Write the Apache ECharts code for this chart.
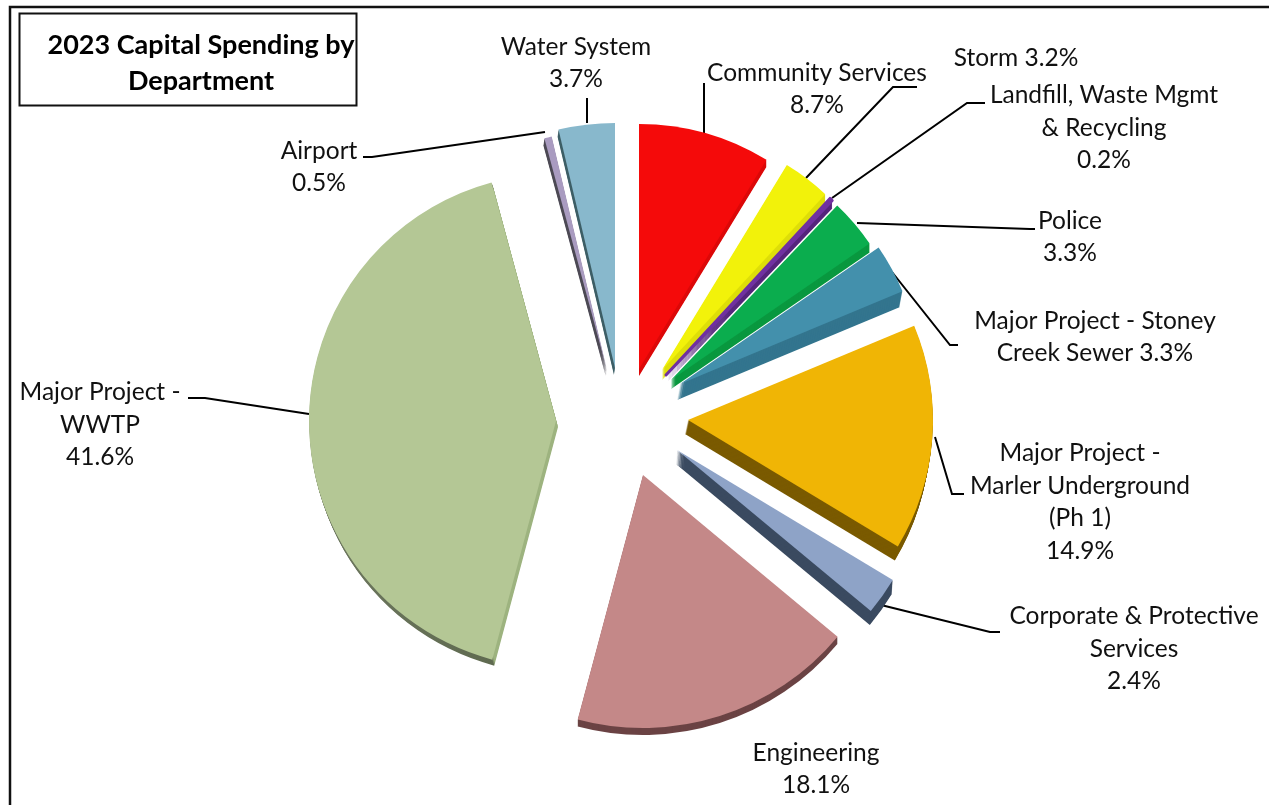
<!DOCTYPE html>
<html>
<head>
<meta charset="utf-8">
<style>html,body{margin:0;padding:0;background:#fff}#c{width:1269px;height:805px}</style>
<script src="https://cdn.jsdelivr.net/npm/echarts@6/dist/echarts.min.js"></script>
</head>
<body>
<div id="c"></div>
<script>
// ---- data ----
const categories = ['Community Services','Storm','Landfill, Waste Mgmt & Recycling','Police','Major Project - Stoney Creek Sewer','Major Project - Marler Underground (Ph 1)','Corporate & Protective Services','Engineering','Major Project - WWTP','Airport','Water System'];
const shares = [8.7,3.2,0.2,3.3,3.3,14.9,2.4,18.1,41.6,0.5,3.7];
const labelHeads = ['Community Services\n','Storm ','Landfill, Waste Mgmt\n& Recycling\n','Police\n','Major Project - Stoney\nCreek Sewer ','Major Project -\nMarler Underground\n(Ph 1)\n','Corporate & Protective\nServices\n','Engineering\n','Major Project -\nWWTP\n','Airport\n','Water System\n'];
const titleText = '2023 Capital Spending by\nDepartment';
// ---- styling and layout ----
const faceColors = ['#F50A0A','#F2F20A','#7030A0','#0BAD4E','#4390AC','#F0B505','#8EA3C7','#C48888','#B4C795','#A99BC0','#88B8CC'];
const wwtpSide = {type: 'linear', x: 0, y: 0, x2: 1, y2: 0, colorStops: [
  {offset: 0, color: '#6E7860'}, {offset: 0.74, color: '#5F6A50'}, {offset: 0.745, color: '#9DB37F'}, {offset: 1, color: '#9DB37F'}
]};
const sideColors = ['#DC0808','#DEDE08','#55247C','#09983F','#33758E','#7A5A00','#3A4A60','#6B4344',wwtpSide,'#4D4A55','#3E5F66'];
const faceBorders = [0,0,3,0,0,0,0,0,0,0,0];
const apex = [[639,369],[662,370],[666,375],[671,380],[680,384],[688,420],[677,450],[643,475],[556,421],[607,370],[615,368]];
const radii = [245,240,241,241,241,245,252,253,247,240,245];
const depth = [[0,7],[0,10],[0,8],[0,9],[-3,16],[-3,14],[-1,14],[0,7],[2,6],[-1,7],[-1,7]];
const labelBoxes = [[817,89],[1016,58],[1104,128],[1070,237],[1095,337],[1080,502],[1134,649],[816,769],[100,425],[319,167],[576,63]];
const leaderLines = [
  [[704,83],[704,118],[704,133]],
  [[917,87],[893,87],[806,178]],
  [[985,103],[967,103],[832,198]],
  [[1035,229],[1030,229],[857,223]],
  [[958,345],[950,345],[892,272]],
  [[964,494],[952,494],[935,437]],
  [[1000,632],[990,632],[877,604]],
  null,
  [[188,398],[205,398],[309,414]],
  [[363,157],[372,157],[545,132]],
  [[587,98],[587,110],[587,123]]
];
const FONT = 'Lato';

function sliceSeries(i, dx, dy, color, withLabel) {
  return {
    type: 'pie', silent: true, animation: false, avoidLabelOverlap: false,
    startAngle: 90, clockwise: true,
    center: [apex[i][0] + dx, apex[i][1] + dy],
    radius: [0, radii[i]],
    emphasis: {disabled: true},
    labelLayout: withLabel ? function () {
      const o = {x: labelBoxes[i][0], y: labelBoxes[i][1], align: 'center', verticalAlign: 'middle', hideOverlap: false};
      if (leaderLines[i]) o.labelLinePoints = leaderLines[i];
      return o;
    } : undefined,
    data: categories.map(function (name, j) {
      const mine = j === i;
      const border = withLabel && mine ? faceBorders[j] : 0;
      return {
        name: name, value: shares[j],
        itemStyle: {color: mine ? color : 'rgba(0,0,0,0)', borderWidth: border, borderColor: faceColors[j]},
        label: {
          show: withLabel && mine,
          formatter: labelHeads[j] + shares[j] + '%',
          color: '#111', fontFamily: FONT, fontSize: 24.5, lineHeight: 32.5, align: 'center'
        },
        labelLine: {show: withLabel && mine && !!leaderLines[j], lineStyle: {color: '#000', width: 2}}
      };
    })
  };
}

const series = [];
categories.forEach(function (_, i) {
  const steps = Math.max(Math.abs(depth[i][0]), Math.abs(depth[i][1]));
  for (let k = steps; k >= 1; k--) {
    series.push(sliceSeries(i, depth[i][0] * k / steps, depth[i][1] * k / steps, sideColors[i], false));
  }
});
categories.forEach(function (_, i) {
  series.push(sliceSeries(i, 0, 0, faceColors[i], true));
});

const chart = echarts.init(document.getElementById('c'), null, {renderer: 'canvas'});
chart.setOption({
  backgroundColor: '#fff',
  animation: false,
  title: {
    text: titleText, left: 196, top: 22, textAlign: 'center',
    textStyle: {fontFamily: FONT, fontWeight: 'bold', fontSize: 27, lineHeight: 36, color: '#000', align: 'center'}
  },
  graphic: [
    {type: 'rect', z: -1, shape: {x: 10, y: 7, width: 1270, height: 810}, style: {fill: 'none', stroke: '#111', lineWidth: 2.5}},
    {type: 'rect', z: -1, shape: {x: 19.5, y: 13.5, width: 337, height: 92}, style: {fill: '#fff', stroke: '#111', lineWidth: 2}}
  ],
  series: series
});
</script>
</body>
</html>
